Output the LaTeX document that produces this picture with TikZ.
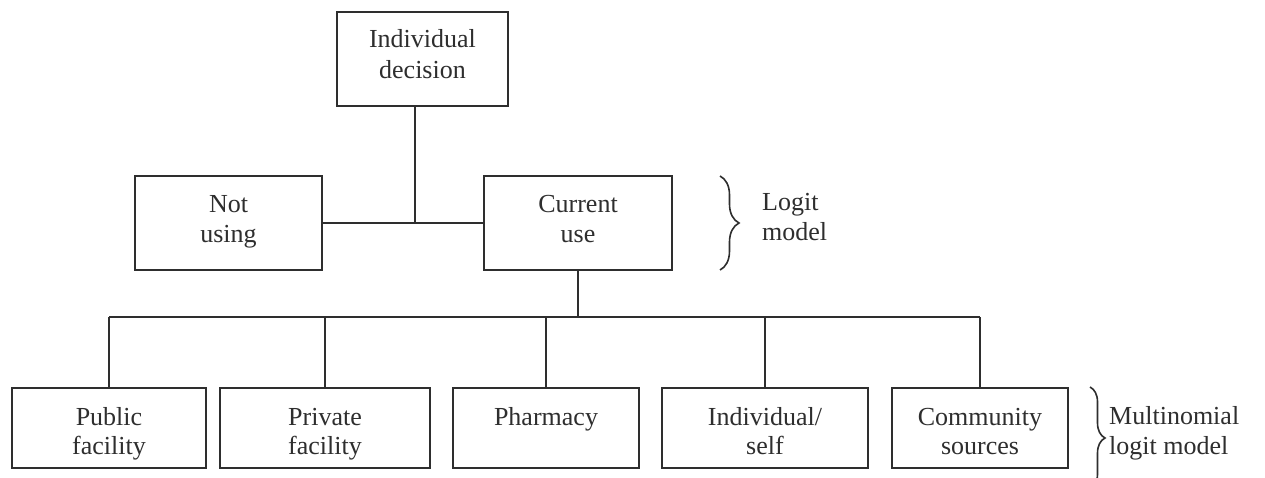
\documentclass[tikz,border=0pt]{standalone}
\usepackage{fontspec}
\setmainfont{Liberation Serif}
\usetikzlibrary{decorations.pathreplacing}
\definecolor{ink}{HTML}{2E2E2E}
\tikzset{
  box/.style={draw=ink, line width=1.6pt, rectangle, inner sep=0pt, align=center,
    text=ink, font=\fontsize{26}{30}\selectfont, text depth=0pt, text height=38pt},
  toprow/.style={font=\fontsize{26}{31}\selectfont, text height=38pt},
  botrow/.style={minimum height=80pt, font=\fontsize{26}{29}\selectfont, text height=52pt},
  oneline/.style={text height=0pt, text depth=6pt},
  conn/.style={draw=ink, line width=1.6pt},
  lbl/.style={text=ink, align=left, anchor=south west, inner sep=0pt, text depth=0pt,
    font=\fontsize{26}{30.5}\selectfont},
  brc/.style={draw=ink, line width=1.6pt, decorate, decoration={brace, amplitude=#1}}
}
\begin{document}
\begin{tikzpicture}[x=1pt,y=-1pt]
\clip (0,0) rectangle (1265,477);
\fill[white] (0,0) rectangle (1265,477);
% nodes
\node[box, toprow, minimum width=171pt, minimum height=94pt] (dec) at (422.5,59) {Individual\\decision};
\node[box, minimum width=187pt, minimum height=94pt] (notuse) at (228.5,223) {Not\\using};
\node[box, minimum width=188pt, minimum height=94pt] (cur) at (578,223) {Current\\use};
\node[box, botrow, minimum width=194pt] (pub) at (109,428) {Public\\facility};
\node[box, botrow, minimum width=210pt] (priv) at (325,428) {Private\\facility};
\node[box, botrow, oneline, minimum width=186pt] (pharm) at (546,428) {Pharmacy};
\node[box, botrow, minimum width=206pt] (indiv) at (765,428) {Individual/\\self};
\node[box, botrow, minimum width=176pt] (comm) at (980,428) {Community\\sources};
% junctions
\coordinate (j1) at (415,223);
\coordinate (bus) at (578,317);
% connectors
\draw[conn] (notuse.east) -- (cur.west);
\draw[conn] (dec.south -| j1) -- (j1);
\draw[conn] (cur.south) -- (bus);
\draw[conn] (pub.north |- bus) -- (comm.north |- bus);
\foreach \n in {pub,priv,pharm,indiv,comm}{
  \draw[conn] (\n.north) -- (\n.north |- bus);
}
% braces
\coordinate (b1t) at (720,176);
\coordinate (b1b) at (720,270);
\draw[brc=19pt] (b1t) -- (b1b);
\node[lbl] (logit) at (762,241) {Logit\\model};
\coordinate (b2t) at (1090,387);
\coordinate (b2b) at (1090,489);
\draw[brc=15pt] (b2t) -- (b2b);
\node[lbl] (multi) at (1109,455) {Multinomial\\logit model};
\end{tikzpicture}
\end{document}
